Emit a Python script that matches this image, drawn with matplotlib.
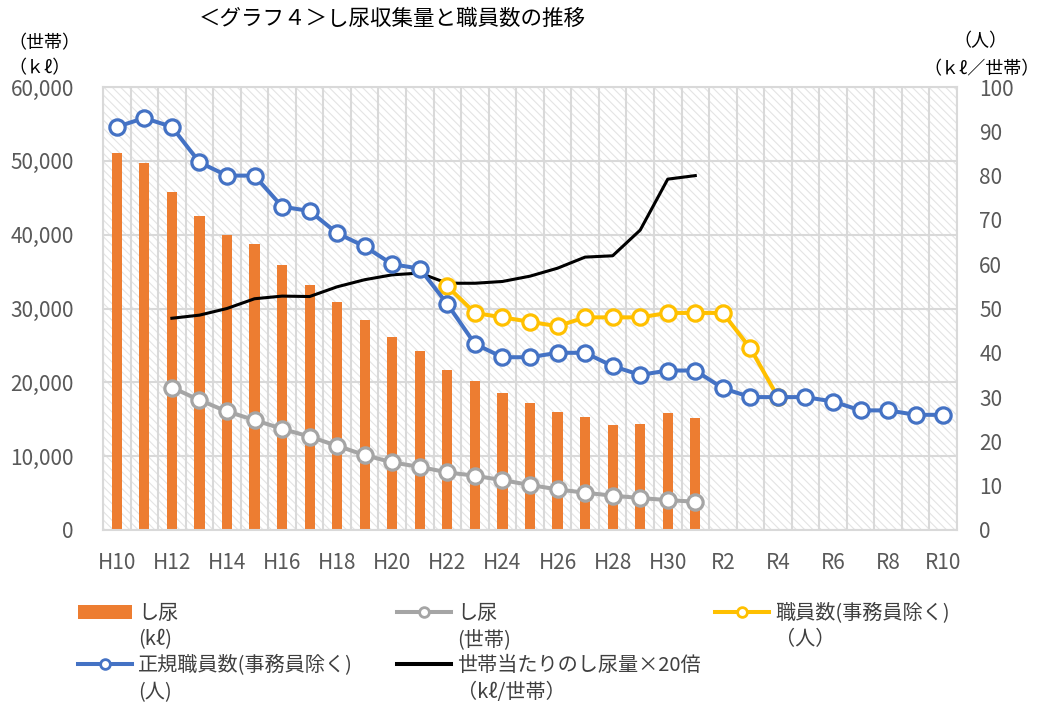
import numpy as np
import matplotlib
matplotlib.use('Agg')
import matplotlib.pyplot as plt
from matplotlib.patches import Rectangle, Patch
from matplotlib.lines import Line2D

plt.rcParams['font.family'] = ['Noto Sans CJK JP', 'DejaVu Sans']
plt.rcParams['hatch.linewidth'] = 0.8

nan = np.nan
# 年度 H10..H31, R2..R10
years = ['H%d' % y for y in range(10, 32)] + ['R%d' % y for y in range(2, 11)]

# し尿 (kℓ) H10..H31
shinyo_kl = [51100, 49650, 45800, 42550, 40000, 38750, 35950, 33200, 30900, 28450, 26200,
             24250, 21650, 20200, 18600, 17250, 15950, 15350, 14250, 14350, 15800, 15200]
# し尿 (世帯) H10..H31
shinyo_setai = [nan, nan, 19300, 17600, 16050, 14900, 13700, 12650, 11400, 10150, 9150,
                8550, 7800, 7350, 6750, 6100, 5500, 5050, 4650, 4330, 4050, 3830]
# 世帯当たりのし尿量×20倍 H10..H31
per_setai = [nan, nan, 47.8, 48.5, 50.0, 52.2, 52.8, 52.7, 54.9, 56.5, 57.6,
             58.0, 55.7, 55.7, 56.1, 57.3, 59.1, 61.6, 61.9, 67.7, 79.2, 80.0]
# 正規職員数 H10..R10
seiki = [91, 93, 91, 83, 80, 80, 73, 72, 67, 64, 60, 59, 51, 42, 39, 39, 40, 40, 37, 35, 36, 36,
         32, 30, 30, 30, 29, 27, 27, 26, 26]
# 職員数 H10..R10
shokuin = [nan] * 12 + [55, 49, 48, 47, 46, 48, 48, 48, 49, 49, 49, 41, 30] + [nan] * 6

c_orange = '#ED7D31'
c_gray = '#A5A5A5'
c_yellow = '#FFC000'
c_blue = '#4472C4'
c_grid = '#D9D9D9'
c_tick = '#595959'

W, H = 1039, 704
fig = plt.figure(figsize=(W / 100, H / 100), dpi=100)
ax = fig.add_axes([103 / W, 174 / H, 854 / W, 443 / H])
ax2 = ax.twinx()

x = np.arange(len(years))
n_kl = len(shinyo_kl)

# hatched background
bg = Rectangle((0, 0), 1, 1, transform=ax.transAxes, facecolor='white',
               edgecolor='#E4E4E4', hatch='\\\\\\\\', lw=0, zorder=0.1)
ax.add_patch(bg)
ax.set_axisbelow(True)

ax.bar(x[:n_kl], shinyo_kl, width=0.37, color=c_orange, zorder=2)
ax.plot(x[:n_kl], shinyo_setai, color=c_gray, lw=2.9, marker='o', ms=11,
        mfc='white', mec=c_gray, mew=2.3, zorder=3)

ax2.plot(x[:n_kl], per_setai, color='black', lw=2.2, zorder=2)
ax2.plot(x, shokuin, color=c_yellow, lw=2.9, marker='o', ms=11,
         mfc='white', mec=c_yellow, mew=2.3, zorder=3)
ax2.plot(x, seiki, color=c_blue, lw=2.9, marker='o', ms=11,
         mfc='white', mec=c_blue, mew=2.3, zorder=4)

ax.set_xlim(-0.5, len(years) - 0.5)
ax.set_ylim(0, 60000)
ax2.set_ylim(0, 100)
ax.set_yticks(np.arange(0, 60001, 10000))
ax.set_yticklabels(['{:,}'.format(v) for v in range(0, 60001, 10000)])
ax2.set_yticks(np.arange(0, 101, 10))

ax.set_xticks(x[::2])
ax.set_xticklabels(years[::2])
ax.set_xticks(np.arange(-0.5, len(years), 1), minor=True)
ax.grid(axis='y', which='major', color=c_grid, lw=1.5)
ax.grid(axis='x', which='minor', color=c_grid, lw=1.5)
ax.tick_params(axis='x', which='both', length=0, pad=16, labelsize=15, labelcolor=c_tick)
ax.tick_params(axis='y', length=0, pad=21, labelsize=15, labelcolor=c_tick)
ax2.tick_params(axis='y', length=0, pad=16, labelsize=15, labelcolor=c_tick)

for sp in ax.spines.values():
    sp.set_color(c_grid)
    sp.set_linewidth(1.5)
for sp in ax2.spines.values():
    sp.set_visible(False)

# titles and unit labels
fig.text(392 / W, 1 - 19 / H, '＜グラフ４＞し尿収集量と職員数の推移', ha='center', va='center', fontsize=15.5)
fig.text(44 / W, 1 - 43 / H, '（世帯）', ha='center', va='center', fontsize=13)
fig.text(40 / W, 1 - 68 / H, '（ｋℓ）', ha='center', va='center', fontsize=13)
fig.text(980 / W, 1 - 41 / H, '（人）', ha='center', va='center', fontsize=13)
fig.text(982 / W, 1 - 69 / H, '（ｋℓ／世帯）', ha='center', va='center', fontsize=13)

# legend (three columns)
blank = Line2D([], [], color='none')
h_bar = Patch(facecolor=c_orange)
h_gray = Line2D([], [], color=c_gray, lw=2.9, marker='o', ms=7, mfc='white', mec=c_gray, mew=2)
h_yellow = Line2D([], [], color=c_yellow, lw=2.9, marker='o', ms=7, mfc='white', mec=c_yellow, mew=2)
h_blue = Line2D([], [], color=c_blue, lw=2.9, marker='o', ms=7, mfc='white', mec=c_blue, mew=2)
h_black = Line2D([], [], color='black', lw=2.9)

cols = [
    (78, [h_bar, blank, h_blue, blank], ['し尿', '(kℓ)', '正規職員数(事務員除く)', '(人)']),
    (397, [h_gray, blank, h_black, blank], ['し尿', '(世帯)', '世帯当たりのし尿量×20倍', '（kℓ/世帯）']),
    (715, [h_yellow, blank], ['職員数(事務員除く)', '（人）']),
]
for xpix, hs, ls in cols:
    lg = fig.legend(hs, ls, loc='upper left', bbox_to_anchor=(xpix / W, 1 - 603 / H),
                    frameon=False, fontsize=14.5, borderpad=0, borderaxespad=0,
                    handlelength=2.7, handletextpad=0.3, labelspacing=0.26,
                    labelcolor='#404040')

fig.savefig('out.png', dpi=100)
